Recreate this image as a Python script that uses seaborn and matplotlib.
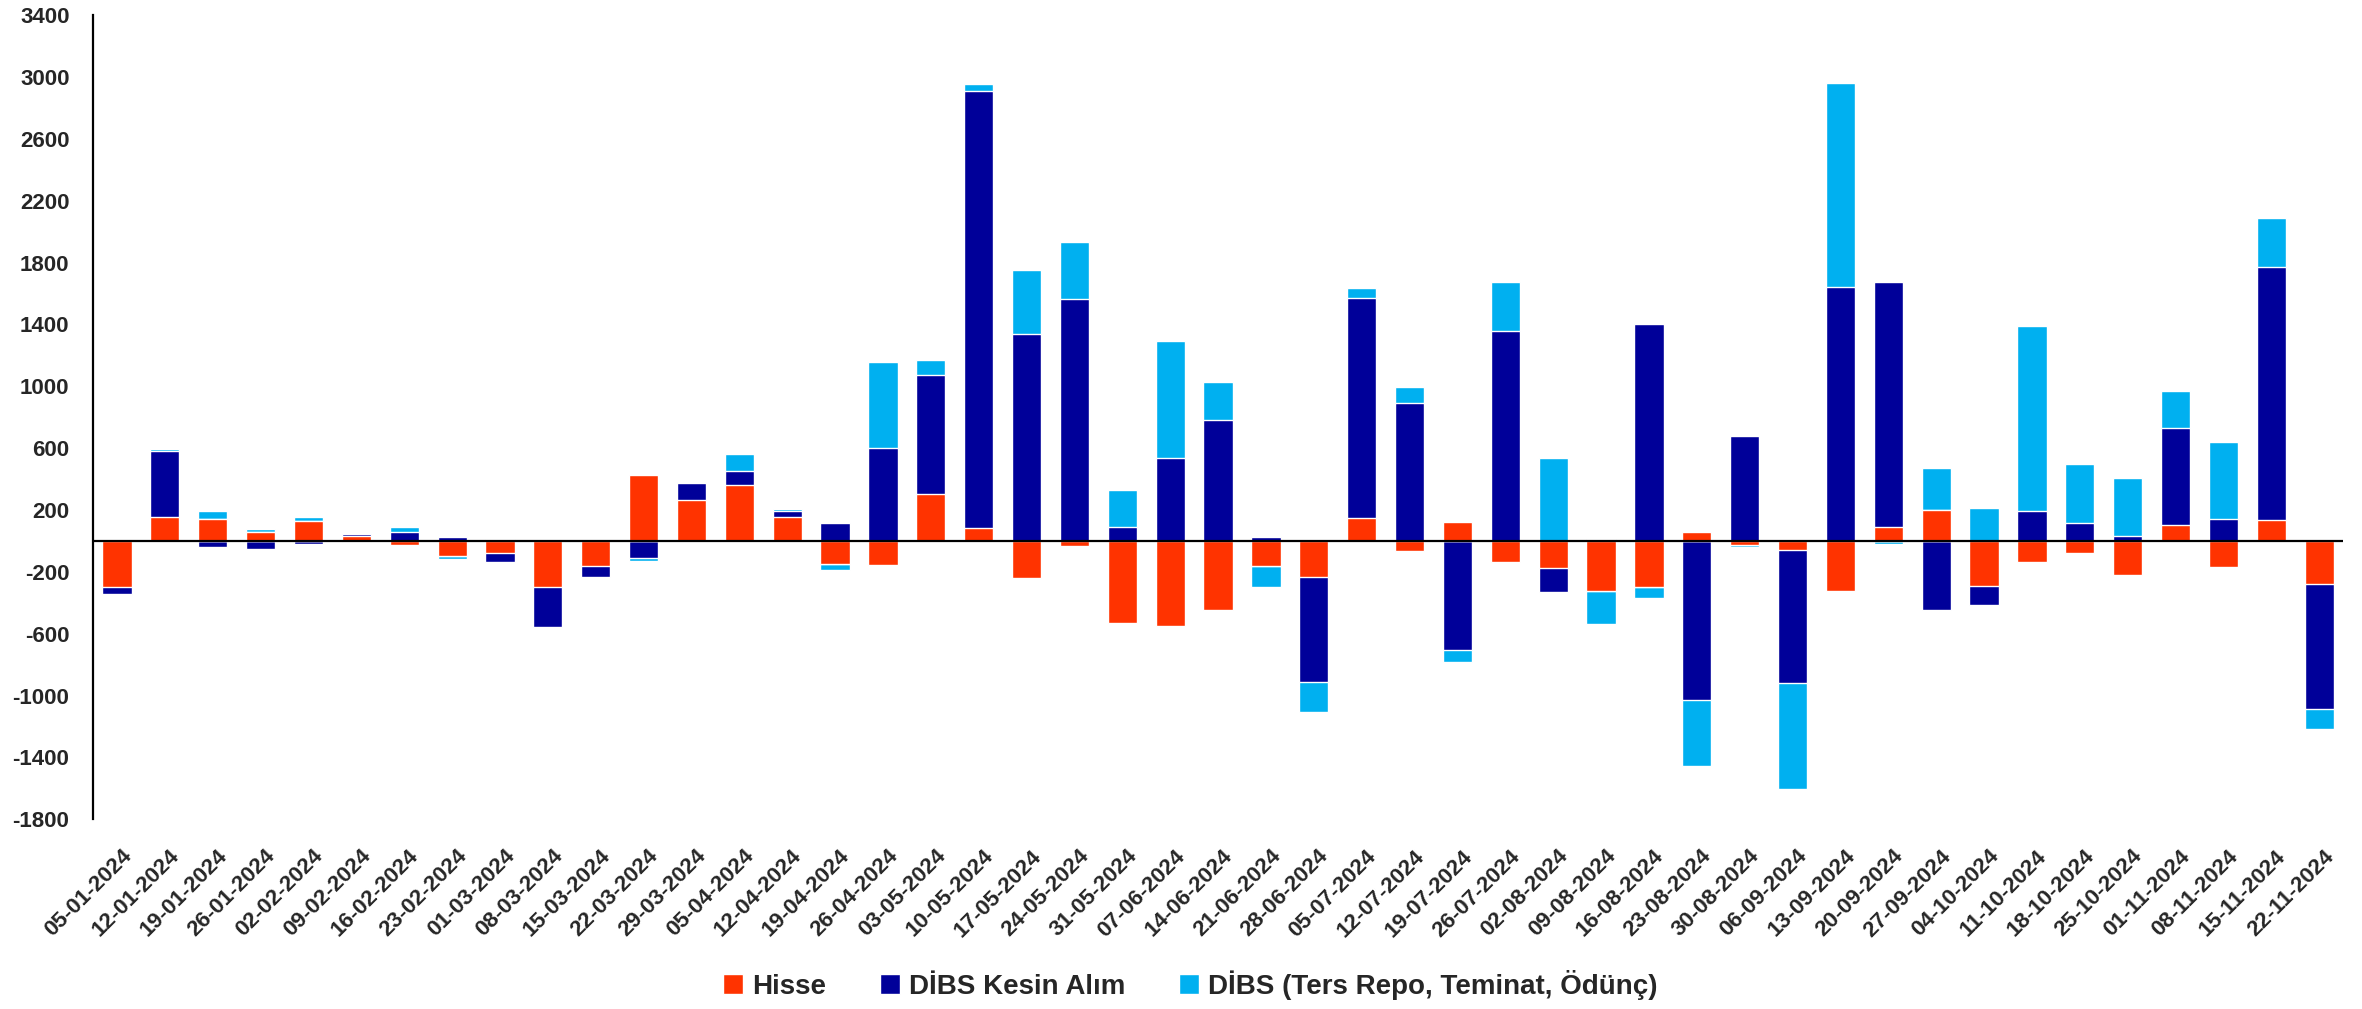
import numpy as np
import seaborn as sns
import matplotlib.pyplot as plt
from matplotlib.patches import Patch
from matplotlib.transforms import ScaledTranslation

# weekly dates (Friday)
dates = ["05-01-2024", "12-01-2024", "19-01-2024", "26-01-2024", "02-02-2024", "09-02-2024",
         "16-02-2024", "23-02-2024", "01-03-2024", "08-03-2024", "15-03-2024", "22-03-2024",
         "29-03-2024", "05-04-2024", "12-04-2024", "19-04-2024", "26-04-2024", "03-05-2024",
         "10-05-2024", "17-05-2024", "24-05-2024", "31-05-2024", "07-06-2024", "14-06-2024",
         "21-06-2024", "28-06-2024", "05-07-2024", "12-07-2024", "19-07-2024", "26-07-2024",
         "02-08-2024", "09-08-2024", "16-08-2024", "23-08-2024", "30-08-2024", "06-09-2024",
         "13-09-2024", "20-09-2024", "27-09-2024", "04-10-2024", "11-10-2024", "18-10-2024",
         "25-10-2024", "01-11-2024", "08-11-2024", "15-11-2024", "22-11-2024"]

hisse = [-300, 155, 140, 58, 130, 30, -25, -95, -80, -295, -165, 428,
         265, 360, 157, -147, -155, 305, 82, -240, -35, -530, -547, -445,
         -165, -230, 150, -65, 120, -133, -175, -325, -298, 58, -24, -58,
         -325, 89, 202, -294, -133, -79, -222, 106, -171, 137, -277]

dibs_kesin = [-40, 425, -38, -50, -17, 12, 60, 25, -55, -260, -70, -110,
              110, 90, 38, 113, 600, 766, 2830, 1337, 1563, 89, 534, 783,
              27, -685, 1420, 893, -705, 1358, -157, 14, 1400, -1030, 677, -860,
              1645, 1584, -445, -120, 195, 113, 31, 626, 144, 1632, -811]

dibs_repo = [-10, 17, 55, 17, 27, -5, 27, -25, 10, 0, 0, -20,
             7, 113, 10, -41, 557, 100, 41, 414, 373, 240, 760, 243,
             -130, -190, 65, 100, -78, 315, 534, -212, -72, -424, -14, -684,
             1314, -17, 270, 212, 1197, 383, 373, 236, 499, 318, -130]

series_names = ["Hisse", "DİBS Kesin Alım", "DİBS (Ters Repo, Teminat, Ödünç)"]
colors = ["#FF3300", "#000099", "#00B0F0"]

sns.set_style("white")
plt.rcParams['font.family'] = ['Liberation Sans', 'DejaVu Sans']
plt.rcParams['axes.unicode_minus'] = False

# positive and negative values stack separately (Excel style)
vals = np.array([hisse, dibs_kesin, dibs_repo], dtype=float)
pos_cum = np.clip(vals, 0, None).cumsum(axis=0)
neg_cum = np.clip(vals, None, 0).cumsum(axis=0)

fig = plt.figure(figsize=(23.62, 10.09), dpi=100)
ax = fig.add_axes([0.0394, 0.188, 0.9526, 0.797])

for k in reversed(range(3)):
    for cum in (pos_cum, neg_cum):
        sns.barplot(x=dates, y=cum[k], color=colors[k], saturation=1,
                    width=0.61, errorbar=None, ax=ax)

ax.axhline(0, color="black", lw=1.6, zorder=5)
ax.set_xlim(-0.5, len(dates) - 0.5)
ax.set_ylim(-1800, 3400)
ax.set_yticks(range(-1800, 3401, 400))
ax.tick_params(axis="y", length=0, pad=17, labelsize=16)
for lab in ax.get_yticklabels():
    lab.set_fontweight("bold")

ax.set_xticks(range(len(dates)))
ax.set_xticklabels(dates, rotation=45, ha="right", rotation_mode="anchor",
                   fontweight="bold", fontsize=16)
ax.tick_params(axis="x", length=0, pad=19)
shift = ScaledTranslation(4 / 100, 0, fig.dpi_scale_trans)
for lab in ax.get_xticklabels():
    lab.set_transform(lab.get_transform() + shift)
ax.set_xlabel("")
ax.set_ylabel("")

for side in ["top", "right", "bottom"]:
    ax.spines[side].set_visible(False)
ax.spines["left"].set_color("black")
ax.spines["left"].set_linewidth(1.6)

handles = [Patch(facecolor=c, label=n) for c, n in zip(colors, series_names)]
fig.legend(handles=handles, loc="center", bbox_to_anchor=(0.504, 0.024), ncol=3,
           frameon=False, handlelength=0.7, handleheight=0.7, handletextpad=0.33,
           columnspacing=1.95, prop={"weight": "bold", "size": 20})

fig.savefig("out.png", dpi=100)
